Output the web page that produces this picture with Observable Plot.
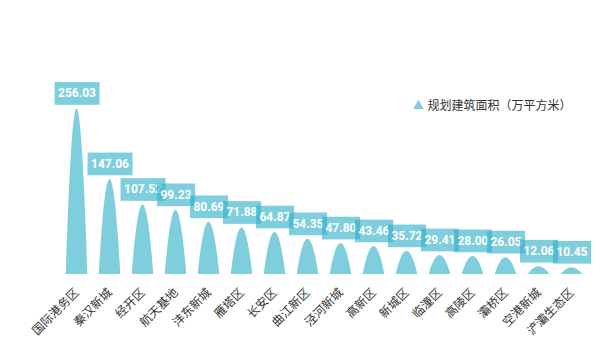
<!DOCTYPE html>
<html><head><meta charset="utf-8">
<script src="https://cdn.jsdelivr.net/npm/d3@7"></script>
<script src="https://cdn.jsdelivr.net/npm/@observablehq/plot@0.6"></script>
<style>body{margin:0;background:#fff} #chart{width:600px;height:355px}</style>
</head><body><div id="chart"></div>
<script>
const categories = ["国际港务区","秦汉新城","经开区","航天基地","沣东新城","雁塔区","长安区","曲江新区","泾河新城","高新区","新城区","临潼区","高陵区","灞桥区","空港新城","浐灞生态区"];
const values = [256.03,147.06,107.52,99.23,80.69,71.88,64.87,54.35,47.80,43.46,35.72,29.41,28.00,26.05,12.06,10.45];
const seriesName = "规划建筑面积（万平方米）";

const data = categories.map((c, i) => ({name: c, value: values[i]}));
const barColor = "#35b2cb";
const barOpacity = 0.63;

const plot = Plot.plot({
  width: 600, height: 355,
  marginLeft: 59, marginRight: 12, marginTop: 80, marginBottom: 81,
  style: {fontFamily: "'Noto Sans CJK SC', sans-serif", fontSize: "12px", color: "#333", background: "#fff", overflow: "visible"},
  x: {domain: categories, padding: 0, label: null},
  y: {domain: [0, 300], axis: null},
  marks: [
    Plot.barY(data, {x: "name", y: "value", fill: barColor, fillOpacity: barOpacity, insetLeft: 5.7, insetRight: 5.7}),
    Plot.axisX({tickSize: 0, tickPadding: 16, tickRotate: -45, dx: 0, fontSize: 12, fill: "#333", label: null}),
    Plot.text(data, {x: "name", y: "value", text: d => d.value.toFixed(2), dy: -15.5, fill: "#fff", fontWeight: "bold", fontSize: 12, fontFamily: "Roboto", lineAnchor: "middle"}),
    Plot.dot([seriesName], {frameAnchor: "top-left", dx: 359, dy: 25.5, symbol: "triangle", r: 4, fill: barColor, fillOpacity: barOpacity}),
    Plot.text([seriesName], {frameAnchor: "top-left", dx: 368, dy: 25.5, text: d => d, textAnchor: "start", fill: "#333", fontSize: 12, lineAnchor: "middle"})
  ]
});
document.getElementById("chart").appendChild(plot);

// turn bar rects into parabola-shaped spikes
d3.select(plot).selectAll('g[aria-label="bar"] rect').each(function() {
  const r = d3.select(this);
  const x = +r.attr("x"), y = +r.attr("y"), w = +r.attr("width"), h = +r.attr("height");
  const p = d3.select(this.parentNode).insert("path", () => this)
    .attr("d", `M${x},${y + h}Q${x + w / 2},${y - h} ${x + w},${y + h}Z`);
  for (const a of ["fill", "fill-opacity", "transform"]) if (r.attr(a) != null) p.attr(a, r.attr(a));
  r.remove();
});

// label boxes behind value labels
const labelGroup = plot.querySelectorAll('g[aria-label="text"]')[0];
labelGroup.querySelectorAll("text").forEach(t => {
  const b = t.getBBox();
  const rect = document.createElementNS("http://www.w3.org/2000/svg", "rect");
  rect.setAttribute("x", b.x - 3.5);
  rect.setAttribute("width", b.width + 7);
  rect.setAttribute("y", -11.35);
  rect.setAttribute("height", 22.7);
  rect.setAttribute("fill", barColor);
  rect.setAttribute("fill-opacity", barOpacity);
  if (t.getAttribute("transform")) rect.setAttribute("transform", t.getAttribute("transform"));
  labelGroup.insertBefore(rect, t);
});
</script>
</body></html>
